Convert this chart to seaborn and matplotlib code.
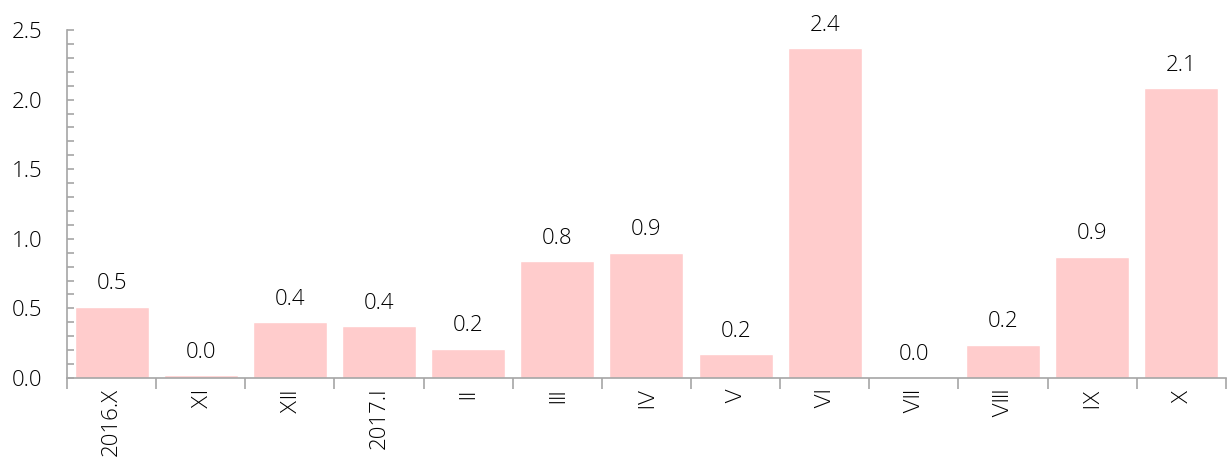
import matplotlib
matplotlib.use("Agg")
import matplotlib.pyplot as plt
import seaborn as sns
import pandas as pd
from matplotlib.ticker import MultipleLocator

months = ["2016.X", "Ⅺ", "Ⅻ", "2017.I", "Ⅱ", "Ⅲ", "Ⅳ", "Ⅴ", "Ⅵ", "Ⅶ", "Ⅷ", "Ⅸ", "Ⅹ"]
values = [0.51, 0.02, 0.40, 0.37, 0.21, 0.84, 0.90, 0.17, 2.37, 0.005, 0.24, 0.87, 2.08]

sns.set_style("white")
plt.rcParams['font.family'] = ['Open Sans', 'DejaVu Sans']
plt.rcParams['font.weight'] = 'light'

df = pd.DataFrame({"month": months, "value": values})

fig = plt.figure(figsize=(12.32, 4.66), dpi=100)
ax = fig.add_axes([0.0544, 0.189, 0.9406, 0.7466])

sns.barplot(data=df, x="month", y="value", color="#ffcccc", saturation=1,
            width=0.83, ax=ax)

for i, v in enumerate(values):
    ax.annotate(f"{v:.1f}", (i, v), xytext=(0, 9), textcoords="offset points",
                ha="center", va="bottom", fontsize=16, color="#000000")

ax.set_xlim(-0.5, len(months) - 0.5)
ax.set_ylim(0, 2.5)
ax.yaxis.set_major_locator(MultipleLocator(0.5))
ax.yaxis.set_minor_locator(MultipleLocator(0.1))
ax.yaxis.set_major_formatter(matplotlib.ticker.FormatStrFormatter("%.1f"))
ax.tick_params(axis="y", which="both", direction="in", length=5, width=1.2,
               color="#a6a6a6", left=True, labelsize=16, pad=18, labelcolor="#000000")

# x ticks at category boundaries, labels centred on bars
ax.set_xticks([i - 0.5 for i in range(len(months) + 1)], minor=False)
ax.set_xticklabels([])
ax.set_xticks(range(len(months)), minor=True)
ax.set_xticklabels(months, minor=True, rotation=90, fontsize=16, va="top", color="#000000")
ax.tick_params(axis="x", which="major", direction="out", length=8, width=1.2,
               color="#a6a6a6", bottom=True)
ax.tick_params(axis="x", which="minor", length=0, pad=7)

for s in ["top", "right"]:
    ax.spines[s].set_visible(False)
for s in ["left", "bottom"]:
    ax.spines[s].set_color("#a6a6a6")
    ax.spines[s].set_linewidth(1.2)

ax.set_xlabel("")
ax.set_ylabel("")

fig.savefig("out.png", dpi=100)
